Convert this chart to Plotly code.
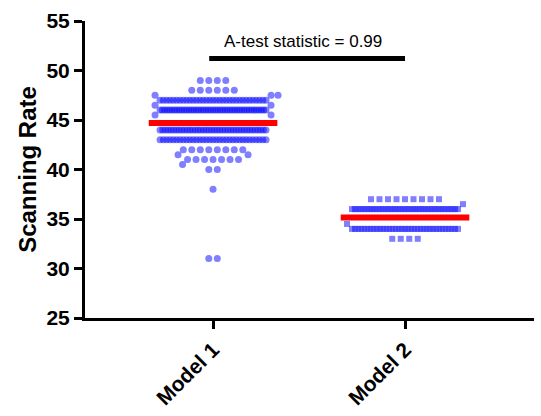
import numpy as np
import plotly.graph_objects as go

# ---------------- data ----------------
categories = ["Model 1", "Model 2"]

model1_levels = [49, 48, 47.5, 47, 46.5, 46, 45.5, 44, 43, 42, 41.5, 41, 40.5, 40, 38, 31]
model1_counts = [4, 6, 3, 33, 2, 45, 2, 40, 33, 8, 2, 7, 1, 2, 1, 2]

model2_levels = [37, 36.5, 36, 34.5, 34, 33]
model2_counts = [9, 1, 38, 1, 35, 4]

y_ticks = [25, 30, 35, 40, 45, 50, 55]
stat_label = "A-test statistic = 0.99"

# ---------------- layout constants ----------------
W, H = 541, 416
ML, MR, MT, MB = 85, 7, 21, 96
PLOT_W = W - ML - MR
PLOT_H = H - MT - MB
XR = [-0.667, 1.672]
YR = [25, 55]
HALF = 53.0      # max half-width of a row of points, px
STEP = 8.5       # spacing between neighbouring points, px
THR = 7.0        # collision distance, px

FONT = "Liberation Sans, Arial, Helvetica, sans-serif"
PT_COLOR = "rgba(0,0,255,0.5)"


def swarm(values, center):
    """Prism-like column scatter: x positions computed from the values."""
    px_x = PLOT_W / (XR[1] - XR[0])
    px_y = PLOT_H / (YR[1] - YR[0])
    levels, counts = np.unique(np.asarray(values, dtype=float), return_counts=True)
    cap = int(2 * HALF / STEP) + 1
    placed = []
    out_x, out_y = [], []

    def free(xo, yo):
        for (a, b) in placed:
            if (a - xo) ** 2 + (b - yo) ** 2 < THR ** 2:
                return False
        return True

    def emit(lvl, offs):
        for o in offs:
            placed.append((o, lvl * px_y))
            out_x.append(center + o / px_x)
            out_y.append(lvl)

    # crowded rows: squeezed into the max width
    for lvl, c in zip(levels, counts):
        if c > cap:
            emit(lvl, list(np.linspace(-HALF, HALF, c)))

    others = sorted([(l, c) for l, c in zip(levels, counts) if c <= cap],
                    key=lambda t: (-t[1], -t[0]))
    toggle = 1
    for lvl, c in others:
        yo = lvl * px_y
        offs = [(i - (c - 1) / 2) * STEP for i in range(c)]
        if all(free(o, yo) for o in offs):
            emit(lvl, offs)
            continue
        for _ in range(c):
            d = 0.0
            found = None
            while found is None:
                cands = [0.0] if d == 0 else [toggle * d, -toggle * d]
                for cand in cands:
                    if free(cand, yo):
                        found = cand
                        break
                d += 0.5
            emit(lvl, [found])
            toggle *= -1
    return out_x, out_y


m1 = np.repeat(model1_levels, model1_counts)
m2 = np.repeat(model2_levels, model2_counts)

x1, y1 = swarm(m1, 0)
x2, y2 = swarm(m2, 1)

fig = go.Figure()
fig.add_trace(go.Scatter(x=x1, y=y1, mode="markers",
                         marker=dict(symbol="circle", size=7, color=PT_COLOR,
                                     line=dict(width=0)),
                         showlegend=False, hoverinfo="y"))
fig.add_trace(go.Scatter(x=x2, y=y2, mode="markers",
                         marker=dict(symbol="square", size=6, color=PT_COLOR,
                                     line=dict(width=0)),
                         showlegend=False, hoverinfo="y"))

# mean lines
for c, vals in enumerate([m1, m2]):
    mu = float(np.mean(vals))
    fig.add_trace(go.Scatter(x=[c - 0.335, c + 0.335], y=[mu, mu], mode="lines",
                             line=dict(color="#FF0000", width=6),
                             showlegend=False, hoverinfo="skip"))

# significance bar
fig.add_trace(go.Scatter(x=[-0.02, 1.0], y=[51.2, 51.2], mode="lines",
                         line=dict(color="black", width=5),
                         showlegend=False, hoverinfo="skip"))
fig.add_annotation(x=0.47, y=51.75, xref="x", yref="y", text=stat_label,
                   showarrow=False, yanchor="bottom", xanchor="center",
                   font=dict(family=FONT, size=17, color="black"))

fig.update_layout(
    width=W, height=H,
    margin=dict(l=ML, r=MR, t=MT, b=MB),
    plot_bgcolor="white", paper_bgcolor="white",
    font=dict(family=FONT, color="black"),
    xaxis=dict(range=XR, tickvals=[0, 1], ticktext=categories, tickangle=-45,
               showline=True, linecolor="black", linewidth=3,
               ticks="outside", ticklen=8, tickwidth=2.5, tickcolor="black",
               showgrid=False, zeroline=False,
               tickfont=dict(family=FONT, size=21, weight="bold", color="black")),
    yaxis=dict(range=YR, tickvals=y_ticks,
               showline=True, linecolor="black", linewidth=3,
               ticks="outside", ticklen=8, tickwidth=2.5, tickcolor="black",
               showgrid=False, zeroline=False,
               tickfont=dict(family=FONT, size=21, weight="bold", color="black"),
               title=dict(text="Scanning Rate", standoff=4,
                          font=dict(family=FONT, size=24, weight="bold", color="black"))),
)

fig.write_html("out.html",
               config={"displayModeBar": False},
               post_script="document.body.style.margin='0';document.body.style.overflow='hidden';")
